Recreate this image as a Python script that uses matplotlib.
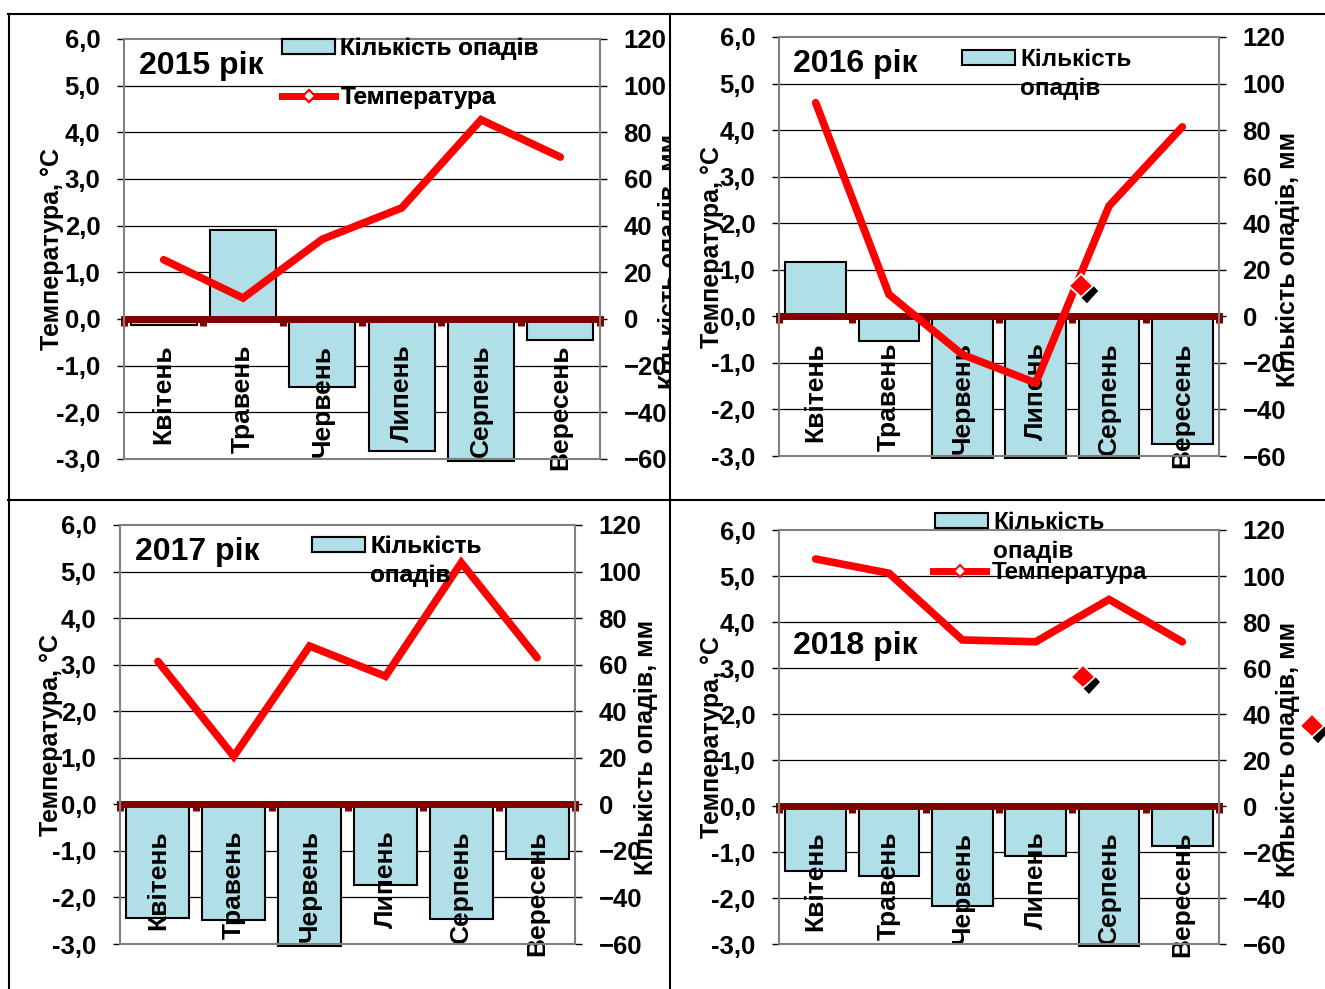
import matplotlib.pyplot as plt
import matplotlib.patheffects as pe
from matplotlib.lines import Line2D
from matplotlib.patches import Patch
from matplotlib.ticker import FixedLocator, FuncFormatter
from matplotlib.transforms import Bbox, TransformedBbox

plt.rcParams['font.family'] = ['Liberation Sans', 'DejaVu Sans']
plt.rcParams['font.weight'] = 'bold'
plt.rcParams['axes.labelweight'] = 'bold'

months = ['Квітень', 'Травень', 'Червень', 'Липень', 'Серпень', 'Вересень']

# temperature deviation, °C (left axis)
temp_2015 = [1.27, 0.45, 1.71, 2.38, 4.27, 3.47]
temp_2016 = [4.59, 0.47, -0.82, -1.43, 2.37, 4.07]
temp_2017 = [3.07, 1.03, 3.40, 2.75, 5.19, 3.15]
temp_2018 = [5.37, 5.06, 3.61, 3.57, 4.49, 3.57]

# precipitation deviation, mm (right axis)
precip_2015 = [-2.4, 38.0, -29.3, -56.4, -61.0, -8.9]
precip_2016 = [23.2, -10.8, -61.0, -61.0, -61.0, -54.8]
precip_2017 = [-48.9, -49.9, -61.0, -34.8, -49.1, -23.6]
precip_2018 = [-28.1, -30.3, -43.5, -21.7, -61.0, -17.2]

temp_ticks = [-3, -2, -1, 0, 1, 2, 3, 4, 5, 6]
precip_ticks = [-60, -40, -20, 0, 20, 40, 60, 80, 100, 120]

W, H = 1325, 989
BAR_COLOR = '#b0dfe8'
RED = '#ff0000'
AXIS_RED = '#800000'
GRAY = '#808080'

fig = plt.figure(figsize=(W / 100, H / 100), dpi=100)


def fig_pt(x, y):
    return (x / W, 1 - y / H)


def px_rect(left, top, right, bottom):
    return [left / W, 1 - bottom / H, (right - left) / W, (bottom - top) / H]


bar_handle = Patch(facecolor=BAR_COLOR, edgecolor='black', linewidth=1.5)
blank_handle = Patch(facecolor='none', edgecolor='none')
temp_handle = Line2D([], [], color=RED, lw=5, marker='D', ms=6,
                     mfc='white', mec=RED, mew=1.5)
stray_handle = Line2D([], [], ls='none', marker='D', ms=12, mfc=RED,
                      mec='white', mew=1.2,
                      path_effects=[pe.SimplePatchShadow(offset=(4, -4), shadow_rgbFace='black', alpha=1.0),
                                    pe.Normal()])

LEG_KW = dict(frameon=False, fontsize=17.5, borderpad=0, borderaxespad=0,
              handlelength=2.2, handleheight=0.55, handletextpad=0.2,
              labelspacing=0.25, bbox_transform=fig.transFigure)


def add_legend(ax, handles, labels, anchor, loc='upper left', **kw):
    opts = dict(LEG_KW)
    opts.update(kw)
    leg = ax.legend(handles, labels, loc=loc, bbox_to_anchor=fig_pt(*anchor), **opts)
    leg.set_zorder(6)
    ax.add_artist(leg)
    return leg


def add_stray(ax, anchor):
    add_legend(ax, [stray_handle], [''], anchor, loc='center',
               handlelength=1.0, handletextpad=0, numpoints=1)


def draw_panel(rect, title, title_pos, temps, precip):
    ax = fig.add_axes(rect)      # precipitation bars, right scale
    ax2 = ax.twinx()             # temperature line, left scale
    x = list(range(len(months)))

    ax.set_xlim(-0.5, len(months) - 0.5)
    ax.set_ylim(precip_ticks[0], precip_ticks[-1])
    ax2.set_ylim(temp_ticks[0], temp_ticks[-1])

    for t in precip_ticks[1:-1]:
        ax.axhline(t, color='black', lw=0.9, zorder=0.5)

    ax.bar(x, precip, width=0.83, color=BAR_COLOR, edgecolor='black',
           linewidth=1.5, clip_on=False, zorder=1)

    # category axis sits on the zero line
    for s in ('top', 'left', 'right'):
        ax.spines[s].set_visible(False)
    ax.spines['bottom'].set_position(('data', 0))
    ax.spines['bottom'].set_color(AXIS_RED)
    ax.spines['bottom'].set_linewidth(5)
    ax.spines['bottom'].set_zorder(2.5)
    ax.set_xticks(x)
    ax.set_xticklabels(months, rotation=90)
    ax.xaxis.set_minor_locator(FixedLocator([i - 0.5 for i in range(len(months) + 1)]))
    ax.tick_params(axis='x', which='major', length=0, pad=18.5, labelsize=19)
    ax.tick_params(axis='x', which='minor', length=5, width=5, color=AXIS_RED, direction='out')

    ax.yaxis.tick_right()
    ax.set_yticks(precip_ticks)
    ax.tick_params(axis='y', length=5, width=1, pad=12, labelsize=18.5, colors='black')
    ax.yaxis.set_label_position('right')
    ax.set_ylabel('Кількість опадів, мм', fontsize=18)
    ax.yaxis.set_label_coords(1.13, 0.47)

    ax2.plot(x, temps, color=RED, lw=5.5, solid_capstyle='round',
             solid_joinstyle='miter', zorder=3, clip_on=False)
    ax2.yaxis.tick_left()
    ax2.yaxis.set_label_position('left')
    ax2.set_yticks(temp_ticks)
    ax2.yaxis.set_major_formatter(FuncFormatter(lambda v, _: f'{v:.1f}'.replace('.', ',')))
    ax2.tick_params(axis='y', length=5, width=1, pad=12, labelsize=18.5, colors='black')
    ax2.set_ylabel('Температура, °С', fontsize=18)
    ax2.yaxis.set_label_coords(-0.125, 0.5)
    for s in ax2.spines.values():
        s.set_color(GRAY)
        s.set_linewidth(1.5)

    ax2.text(title_pos[0], title_pos[1], title, transform=ax2.transAxes,
             fontsize=23, ha='left', va='center', zorder=6)
    return ax, ax2


# 2015
ax, ax2 = draw_panel(px_rect(124, 39, 600, 459), '2015 рік', (0.032, 0.935), temp_2015, precip_2015)
lbl = ax.yaxis.label
lbl.set_clip_on(True)
lbl.set_clip_box(TransformedBbox(Bbox([[0, 0], [669 / W, 1]]), fig.transFigure))
ax.yaxis.set_label_coords(1.122, 0.47)
add_legend(ax2, [bar_handle, temp_handle], ['Кількість опадів', 'Температура'],
           (282, 37), labelspacing=1.05)

# 2016
ax, ax2 = draw_panel(px_rect(779, 37, 1219, 456), '2016 рік', (0.032, 0.935), temp_2016, precip_2016)
add_legend(ax2, [bar_handle, blank_handle], ['Кількість', 'опадів'], (962, 48))
add_stray(ax2, (1081, 287))

# 2017
ax, ax2 = draw_panel(px_rect(120, 525, 575, 944), '2017 рік', (0.033, 0.935), temp_2017, precip_2017)
add_legend(ax2, [bar_handle, blank_handle], ['Кількість', 'опадів'], (312, 535))

# 2018
ax, ax2 = draw_panel(px_rect(779, 530, 1219, 944), '2018 рік', (0.032, 0.72), temp_2018, precip_2018)
add_legend(ax2, [bar_handle, blank_handle], ['Кількість', 'опадів'], (935, 511))
add_legend(ax2, [temp_handle], ['Температура'], (933, 572), loc='center left')
add_stray(ax2, (1083, 678))
add_stray(ax2, (1312, 727))

# frame lines between the four panels
for (x0, y0), (x1, y1) in [((8, 14), (1325, 14)), ((9, 14), (9, 989)),
                           ((670, 14), (670, 989)), ((8, 500), (1325, 500))]:
    fig.add_artist(Line2D([x0 / W, x1 / W], [1 - y0 / H, 1 - y1 / H],
                          transform=fig.transFigure, color='black', lw=1.5))

fig.savefig('out.png', dpi=100)
